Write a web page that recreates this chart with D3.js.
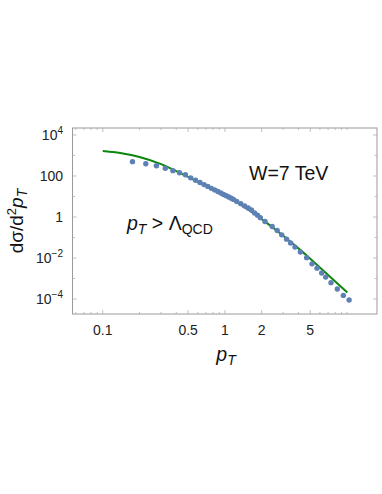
<!DOCTYPE html>
<html>
<head>
<meta charset="utf-8">
<script src="https://cdn.jsdelivr.net/npm/d3@7"></script>
<style>
  body { margin: 0; background: #fff; }
  svg { font-family: "Liberation Sans", Arial, sans-serif; }
</style>
</head>
<body>
<svg width="382" height="494"></svg>
<script>
// measured points (pT, dsigma/d2pT)
const ptData = [0.175, 0.225, 0.275, 0.325, 0.375, 0.425, 0.475, 0.525, 0.575, 0.625,
  0.675, 0.725, 0.775, 0.825, 0.875, 0.925, 0.975, 1.025, 1.075, 1.125, 1.175,
  1.25, 1.35, 1.45, 1.55, 1.65, 1.75, 1.85, 1.95, 2.13, 2.44, 2.68, 2.92, 3.2,
  3.45, 3.75, 4.15, 4.67, 5.17, 5.68, 6.2, 6.69, 7.39, 8.33, 9.33, 10.4];
const sigmaData = [501, 398, 316, 240, 182, 145, 115, 81, 62, 48,
  38, 31, 25, 21, 17.4, 14.8, 12.6, 11.0, 9.5, 8.3, 7.2,
  5.75, 4.47, 3.47, 2.75, 2.19, 1.58, 1.23, 0.93, 0.60, 0.347, 0.219, 0.135, 0.083,
  0.054, 0.034, 0.0195, 0.0104, 0.0052, 0.0032, 0.00186, 0.00117, 6.3e-4, 3.1e-4, 1.5e-4, 8.9e-5];

// model curve
const curvePt = [0.1, 0.15, 0.2, 0.3, 0.4, 0.5, 0.7, 1, 1.5, 2, 3, 4, 5, 7, 10.06];
const curveSigma = [1660, 1230, 851, 380, 174, 91, 33, 11, 2.63, 0.79, 0.123, 0.0295, 0.0093, 0.0015, 2.1e-4];

const xTicks = [0.1, 0.5, 1, 2, 5];
const xMinor = [0.06, 0.07, 0.08, 0.09, 0.2, 0.3, 0.4, 0.6, 0.7, 0.8, 0.9, 3, 4, 6, 7, 8, 9, 10];
const yTicks = [1e4, 100, 1, 1e-2, 1e-4];
const yMinor = [1e3, 10, 0.1, 1e-3];

const svg = d3.select("svg");
const plotLeft = 72.5, plotRight = 377, plotTop = 128, plotBottom = 314;

const x = d3.scaleLog().domain([0.0565, 17.6]).range([plotLeft, plotRight]);
const y = d3.scaleLog().domain([1.86e-5, 2.19e4]).range([plotBottom, plotTop]);

// frame
svg.append("rect")
  .attr("x", plotLeft).attr("y", plotTop)
  .attr("width", plotRight - plotLeft).attr("height", plotBottom - plotTop)
  .attr("fill", "none").attr("stroke", "#9a9a9a").attr("stroke-width", 1);

// ticks on all four sides, pointing inward
const tickG = svg.append("g").attr("stroke", "#b0b0b0").attr("stroke-width", 0.8);
function xTick(v, len) {
  tickG.append("line").attr("x1", x(v)).attr("x2", x(v)).attr("y1", plotBottom).attr("y2", plotBottom - len);
  tickG.append("line").attr("x1", x(v)).attr("x2", x(v)).attr("y1", plotTop).attr("y2", plotTop + len);
}
function yTick(v, len) {
  tickG.append("line").attr("y1", y(v)).attr("y2", y(v)).attr("x1", plotLeft).attr("x2", plotLeft + len);
  tickG.append("line").attr("y1", y(v)).attr("y2", y(v)).attr("x1", plotRight).attr("x2", plotRight - len);
}
xTicks.forEach(v => xTick(v, 4));
xMinor.forEach(v => xTick(v, 2));
yTicks.forEach(v => yTick(v, 4));
yMinor.forEach(v => yTick(v, 2.5));

// tick labels
svg.append("g").selectAll("text")
  .data(xTicks)
  .enter()
  .append("text")
    .attr("x", d => x(d))
    .attr("y", 335)
    .attr("text-anchor", "middle")
    .attr("font-size", 14)
    .attr("fill", "#222")
    .text(d => d);

yTicks.forEach(function(d) {
  const t = svg.append("text")
    .attr("x", 63)
    .attr("y", y(d) + 5)
    .attr("text-anchor", "end")
    .attr("font-size", 14)
    .attr("fill", "#222");
  const e = Math.round(Math.log10(d));
  if (e === 0 || e === 2) {
    t.text(d);
  } else {
    t.append("tspan").text("10");
    t.append("tspan").attr("dy", -6).attr("font-size", 10)
      .text(e < 0 ? "\u2212" + (-e) : e);
  }
});

// model line
const line = d3.line()
  .x((d, i) => x(curvePt[i]))
  .y(d => y(d))
  .curve(d3.curveMonotoneX);

svg.append("path")
  .datum(curveSigma)
  .attr("d", line)
  .attr("fill", "none")
  .attr("stroke", "#0b870b")
  .attr("stroke-width", 2);

// data points
svg.append("g").selectAll("circle")
  .data(sigmaData)
  .enter()
  .append("circle")
    .attr("cx", (d, i) => x(ptData[i]))
    .attr("cy", d => y(d))
    .attr("r", 2.7)
    .attr("fill", "#5e81b5");

// annotations
svg.append("text")
  .attr("x", 249).attr("y", 180)
  .attr("font-size", 19.5)
  .attr("fill", "#111")
  .text("W=7 TeV");

const cut = svg.append("text")
  .attr("x", 127).attr("y", 230)
  .attr("font-size", 19.5)
  .attr("fill", "#111");
cut.append("tspan").attr("font-style", "italic").text("p");
cut.append("tspan").attr("font-style", "italic").attr("font-size", 14).attr("dy", 4).text("T");
cut.append("tspan").attr("dy", -4).text(" > \u039B");
cut.append("tspan").attr("font-size", 14).attr("dy", 4).text("QCD");

// axis labels
const xl = svg.append("text")
  .attr("x", 226).attr("y", 361)
  .attr("text-anchor", "middle")
  .attr("font-size", 19.5)
  .attr("fill", "#111");
xl.append("tspan").attr("font-style", "italic").text("p");
xl.append("tspan").attr("font-style", "italic").attr("font-size", 14).attr("dy", 4).text("T");

const yl = svg.append("text")
  .attr("transform", "translate(23,221) rotate(-90)")
  .attr("text-anchor", "middle")
  .attr("font-size", 19)
  .attr("fill", "#111");
yl.append("tspan").text("d\u03C3/d");
yl.append("tspan").attr("font-size", 13).attr("dy", -7).text("2");
yl.append("tspan").attr("font-style", "italic").attr("dy", 7).text("p");
yl.append("tspan").attr("font-style", "italic").attr("font-size", 14).attr("dy", 4).text("T");
</script>
</body>
</html>
